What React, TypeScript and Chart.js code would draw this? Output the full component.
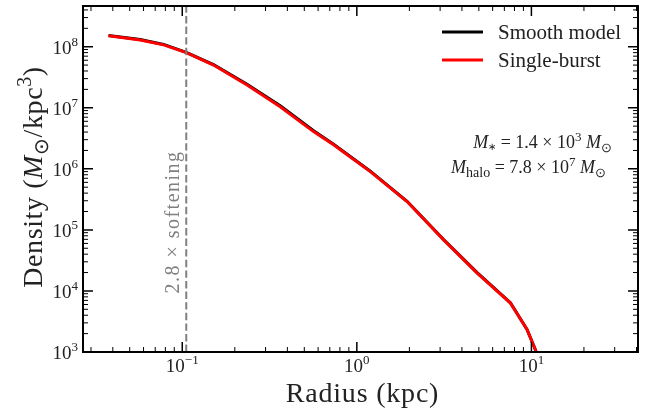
import { useEffect, useRef } from "react";
import { Chart, registerables } from "chart.js";

Chart.register(...registerables);

// ---- data ----
const radius = [0.0378, 0.0574, 0.0782, 0.1054, 0.151, 0.235, 0.364, 0.565, 0.736, 1.195, 1.94, 3.14, 4.89, 7.58, 9.45, 10.54, 12.0];
const smoothDensity = [1.53e8, 1.31e8, 1.09e8, 8.1e7, 5.1e7, 2.42e7, 1.08e7, 4.2e6, 2.53e6, 9.15e5, 2.94e5, 6.95e4, 1.99e4, 6.42e3, 2.33e3, 1.09e3, 3.0e2];
const burstDensity = [1.51e8, 1.29e8, 1.07e8, 7.98e7, 5.0e7, 2.36e7, 1.04e7, 4.07e6, 2.47e6, 9.0e5, 2.91e5, 6.87e4, 1.96e4, 6.34e3, 2.32e3, 1.09e3, 3.0e2];
const softeningRadius = 0.1054;

const xRange = [0.027, 40.8];
const yRange = [1e3, 4.64e8];
const xMajorTicks = [0.1, 1, 10];
const xTickExponents = ["\u22121", "0", "1"];
const yMajorTicks = [1e3, 1e4, 1e5, 1e6, 1e7, 1e8];
const yTickExponents = ["3", "4", "5", "6", "7", "8"];

const seriesLabels = ["Smooth model", "Single-burst"];
const seriesColors = ["#000000", "#ff0000"];
const softeningLabel = "2.8 \u00d7 softening";

const FAM = '"Liberation Serif", serif';

type Seg = { t: string; s?: "i" | "sup" | "sub" | "subi" | "subl" | "subs" };

function segFont(s: Seg["s"], size: number) {
  const small = Math.round(size * 0.7);
  if (s === "i") return `italic ${size}px ${FAM}`;
  if (s === "sup" || s === "sub") return `${small}px ${FAM}`;
  if (s === "subl") return `${Math.round(size * 0.78)}px ${FAM}`;
  if (s === "subs") return `${Math.round(size * 0.55)}px ${FAM}`;
  if (s === "subi") return `italic ${small}px ${FAM}`;
  return `${size}px ${FAM}`;
}

function richWidth(ctx: CanvasRenderingContext2D, segs: Seg[], size: number) {
  let w = 0;
  for (const sg of segs) {
    ctx.font = segFont(sg.s, size);
    w += ctx.measureText(sg.t).width;
  }
  return w;
}

function drawRich(ctx: CanvasRenderingContext2D, segs: Seg[], x: number, y: number, size: number, align: "left" | "right" | "center", color: string, spacing = 0) {
  (ctx as any).letterSpacing = `${spacing}px`;
  const w = richWidth(ctx, segs, size);
  let cx = align === "left" ? x : align === "right" ? x - w : x - w / 2;
  ctx.fillStyle = color;
  ctx.textAlign = "left";
  ctx.textBaseline = "alphabetic";
  for (const sg of segs) {
    ctx.font = segFont(sg.s, size);
    let dy = 0;
    if (sg.s === "sup") dy = -size * 0.4;
    if (sg.s === "sub" || sg.s === "subi" || sg.s === "subl") dy = size * 0.22;
    if (sg.s === "subs") dy = size * 0.12;
    ctx.fillText(sg.t, cx, y + dy);
    cx += ctx.measureText(sg.t).width;
  }
  (ctx as any).letterSpacing = "0px";
}

function minorValues(min: number, max: number) {
  const out: { v: number; major: boolean }[] = [];
  for (let e = Math.floor(Math.log10(min)); e <= Math.ceil(Math.log10(max)); e++) {
    for (let m = 1; m <= 9; m++) {
      const v = m * Math.pow(10, e);
      if (v >= min * 0.999 && v <= max * 1.001) out.push({ v, major: m === 1 });
    }
  }
  return out;
}

const decorPlugin = {
  id: "decor",
  afterDraw(chart: any) {
    const ctx: CanvasRenderingContext2D = chart.ctx;
    const { left, right, top, bottom } = chart.chartArea;
    const xs = chart.scales.x;
    const ys = chart.scales.y;
    ctx.save();
    // frame
    ctx.strokeStyle = "#000";
    ctx.lineWidth = 2;
    ctx.strokeRect(left, top, right - left, bottom - top);
    // ticks
    const MAJ = 10, MIN = 5;
    for (const t of minorValues(xRange[0], xRange[1])) {
      const px = xs.getPixelForValue(t.v);
      if (px <= left + 1 || px >= right - 1) continue;
      const len = t.major ? MAJ : MIN;
      ctx.lineWidth = t.major ? 1.5 : 1;
      ctx.beginPath();
      ctx.moveTo(px, bottom);
      ctx.lineTo(px, bottom - len);
      ctx.moveTo(px, top);
      ctx.lineTo(px, top + len);
      ctx.stroke();
    }
    for (const t of minorValues(yRange[0], yRange[1])) {
      const py = ys.getPixelForValue(t.v);
      if (py <= top + 1 || py >= bottom - 1) continue;
      const len = t.major ? MAJ : MIN;
      ctx.lineWidth = t.major ? 1.5 : 1;
      ctx.beginPath();
      ctx.moveTo(left, py);
      ctx.lineTo(left + len, py);
      ctx.moveTo(right, py);
      ctx.lineTo(right - len, py);
      ctx.stroke();
    }
    // tick labels
    const TS = 19;
    xMajorTicks.forEach((v, i) => {
      const px = xs.getPixelForValue(v);
      drawRich(ctx, [{ t: "10" }, { t: xTickExponents[i], s: "sup" }], px, bottom + 20, TS, "center", "#222");
    });
    yMajorTicks.forEach((v, i) => {
      const py = ys.getPixelForValue(v);
      drawRich(ctx, [{ t: "10" }, { t: yTickExponents[i], s: "sup" }], left - 5, py + 7, TS, "right", "#222");
    });
    // axis titles
    drawRich(ctx, [{ t: "Radius (kpc)" }], (left + right) / 2 + 2, 402, 28, "center", "#222", 0.8);
    ctx.save();
    ctx.translate(42, (top + bottom) / 2 - 2);
    ctx.rotate(-Math.PI / 2);
    drawRich(ctx, [{ t: "Density (" }, { t: "M", s: "i" }, { t: "\u2299", s: "sub" }, { t: "/kpc" }, { t: "3", s: "sup" }, { t: ")" }], 0, 0, 28, "center", "#222", 0.6);
    ctx.restore();
    // softening label
    ctx.save();
    ctx.translate(179, 222);
    ctx.rotate(-Math.PI / 2);
    drawRich(ctx, [{ t: softeningLabel }], 0, 0, 20, "center", "#808080", 1.5);
    ctx.restore();
    // legend
    const lx0 = 442, lx1 = 483, tx = 498;
    const rows = [32, 60];
    rows.forEach((ry, i) => {
      ctx.strokeStyle = seriesColors[i];
      ctx.lineWidth = 3;
      ctx.beginPath();
      ctx.moveTo(lx0, ry);
      ctx.lineTo(lx1, ry);
      ctx.stroke();
      drawRich(ctx, [{ t: seriesLabels[i] }], tx, ry + 7, 21, "left", "#222");
    });
    // mass annotations
    drawRich(ctx, [{ t: "M", s: "i" }, { t: "\u2217", s: "subs" }, { t: " = 1.4 \u00d7 10" }, { t: "3", s: "sup" }, { t: " M", s: "i" }, { t: "\u2299", s: "sub" }], 612, 148, 18, "right", "#222");
    drawRich(ctx, [{ t: "M", s: "i" }, { t: "halo", s: "subl" }, { t: " = 7.8 \u00d7 10" }, { t: "7", s: "sup" }, { t: " M", s: "i" }, { t: "\u2299", s: "sub" }], 606, 173, 18, "right", "#222");
    ctx.restore();
  },
};

export default function App() {
  const ref = useRef<HTMLCanvasElement | null>(null);
  useEffect(() => {
    if (!ref.current) return;
    const chart = new Chart(ref.current, {
      type: "line",
      data: {
        datasets: [
          {
            label: "softening",
            data: [
              { x: softeningRadius, y: yRange[0] },
              { x: softeningRadius, y: yRange[1] },
            ],
            borderColor: "#808080",
            borderWidth: 2,
            borderDash: [7.4, 3.2],
            pointRadius: 0,
            order: 1,
          },
          {
            label: seriesLabels[1],
            data: radius.map((r, i) => ({ x: r, y: burstDensity[i] })),
            borderColor: seriesColors[1],
            borderWidth: 3,
            pointRadius: 0,
            tension: 0,
            order: 2,
          },
          {
            label: seriesLabels[0],
            data: radius.map((r, i) => ({ x: r, y: smoothDensity[i] })),
            borderColor: seriesColors[0],
            borderWidth: 3,
            pointRadius: 0,
            tension: 0,
            order: 3,
          },
        ],
      },
      options: {
        responsive: false,
        animation: false,
        devicePixelRatio: 1,
        layout: { padding: { left: 83, top: 6, right: 7, bottom: 59 } },
        plugins: { legend: { display: false }, tooltip: { enabled: false } },
        scales: {
          x: { type: "logarithmic", min: xRange[0], max: xRange[1], display: false },
          y: { type: "logarithmic", min: yRange[0], max: yRange[1], display: false },
        },
      },
      plugins: [decorPlugin],
    });
    return () => chart.destroy();
  }, []);
  return (
    <div style={{ position: "fixed", left: 0, top: 0, width: 645, height: 411, background: "#fff" }}>
      <canvas ref={ref} width={645} height={411} />
    </div>
  );
}
